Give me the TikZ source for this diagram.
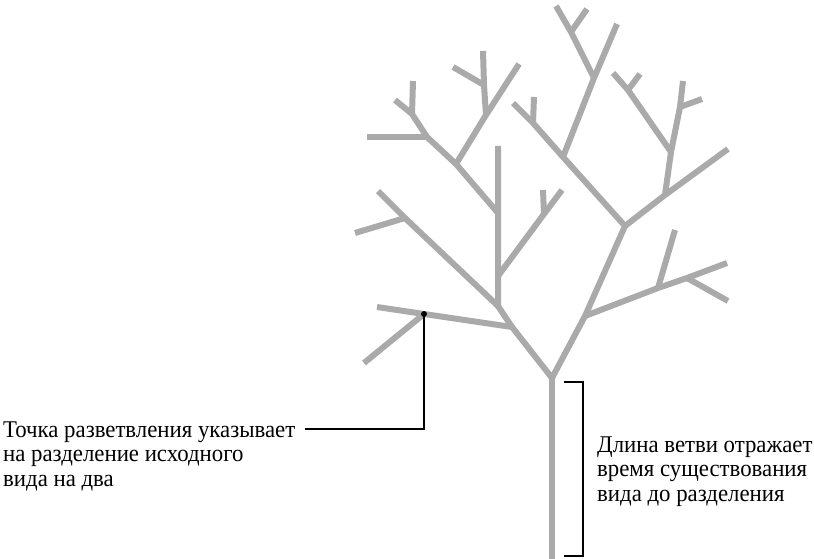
\documentclass[tikz,border=0pt]{standalone}
\usepackage{fontspec}
\setmainfont[FakeStretch=0.95]{Liberation Serif}
\definecolor{treegray}{RGB}{170,170,170}
\begin{document}
\begin{tikzpicture}[x=1pt,y=-1pt,
  limb/.style={line width=6pt,draw=treegray},
  lead/.style={line width=1.1pt,black},
  note/.style={font=\fontsize{24}{24.5}\selectfont,align=left,inner sep=0pt}]
\useasboundingbox (0,0) rectangle (814,559);
% trunk and the first split
\coordinate (root) at (552,559);
\coordinate (R) at (552,378);
\coordinate (L) at (512,327);
\coordinate (K) at (585,316);
\coordinate (M) at (625,226);
% left half
\coordinate (P) at (424,314);
\coordinate (Lend) at (377,307);
\coordinate (Pdown) at (364,363);
\coordinate (B) at (498,306);
\coordinate (C1) at (498,276);
\coordinate (F) at (498,213);
\coordinate (Ftop) at (498,146);
\coordinate (D) at (405,218);
\coordinate (Dend) at (378,191);
\coordinate (Dleft) at (355,233);
\coordinate (E) at (544,214);
\coordinate (Eend) at (562,190);
\coordinate (Eup) at (543,190);
\coordinate (G) at (456,164);
\coordinate (H) at (427,137);
\coordinate (I) at (412,114);
\coordinate (Gend) at (395,100);
\coordinate (Hleft) at (367,137);
\coordinate (Iup) at (413,81);
\coordinate (J) at (486,115);
\coordinate (Jend) at (519,64);
\coordinate (J2) at (484,85);
\coordinate (J2up) at (483,51);
\coordinate (J2left) at (453,67);
% right half
\coordinate (S1) at (658,288);
\coordinate (S2) at (687,278);
\coordinate (Send) at (727,263);
\coordinate (S1up) at (675,230);
\coordinate (S2down) at (728,301);
\coordinate (N1) at (563,157);
\coordinate (N2) at (533,123);
\coordinate (Nend) at (513,103);
\coordinate (N2up) at (534,97);
\coordinate (Q1) at (594,78);
\coordinate (Qend) at (617,24);
\coordinate (Q2) at (571,32);
\coordinate (Q2end) at (556,6);
\coordinate (Q2up) at (587,9);
\coordinate (U1) at (665,195);
\coordinate (Uend) at (728,149);
\coordinate (U2) at (671,152);
\coordinate (U3) at (680,107);
\coordinate (Uup) at (683,81);
\coordinate (U3r) at (702,99);
\coordinate (V1) at (628,90);
\coordinate (Vend) at (613,73);
\coordinate (V1r) at (640,74);
% branches
\draw[limb](root)--(R);
\draw[limb](Lend)--(P)--(L)--(R)--(K)--(M)--(N1)--(N2)--(Nend);
\draw[limb](Pdown)--(P);
\draw[limb](L)--(B)--(C1)--(F)--(Ftop);
\draw[limb](B)--(D)--(Dend);
\draw[limb](D)--(Dleft);
\draw[limb](C1)--(E)--(Eend);
\draw[limb](E)--(Eup);
\draw[limb](F)--(G)--(H)--(I)--(Gend);
\draw[limb](H)--(Hleft);
\draw[limb](I)--(Iup);
\draw[limb](G)--(J)--(Jend);
\draw[limb](J)--(J2)--(J2up);
\draw[limb](J2)--(J2left);
\draw[limb](K)--(S1)--(S2)--(Send);
\draw[limb](S1)--(S1up);
\draw[limb](S2)--(S2down);
\draw[limb](N2)--(N2up);
\draw[limb](N1)--(Q1)--(Qend);
\draw[limb](Q1)--(Q2)--(Q2end);
\draw[limb](Q2)--(Q2up);
\draw[limb](M)--(U1)--(Uend);
\draw[limb](U1)--(U2)--(U3)--(Uup);
\draw[limb](U3)--(U3r);
\draw[limb](U2)--(V1)--(Vend);
\draw[limb](V1)--(V1r);
% leader to the split point
\fill(P)circle(3);
\coordinate (bend) at (424,429);
\coordinate (tip) at (305,429);
\draw[lead](P)--(bend)--(tip);
\node[note,anchor=base west](split) at (3,486) {Точка разветвления указывает\\на разделение исходного\\вида на два};
% bracket along the trunk
\coordinate (btop) at (564,382);
\coordinate (bbot) at (564,556);
\draw[lead](btop)-|(583,469)|-(bbot);
\node[note,anchor=base west](span) at (597,501) {Длина ветви отражает\\время существования\\вида до разделения};
\end{tikzpicture}
\end{document}
